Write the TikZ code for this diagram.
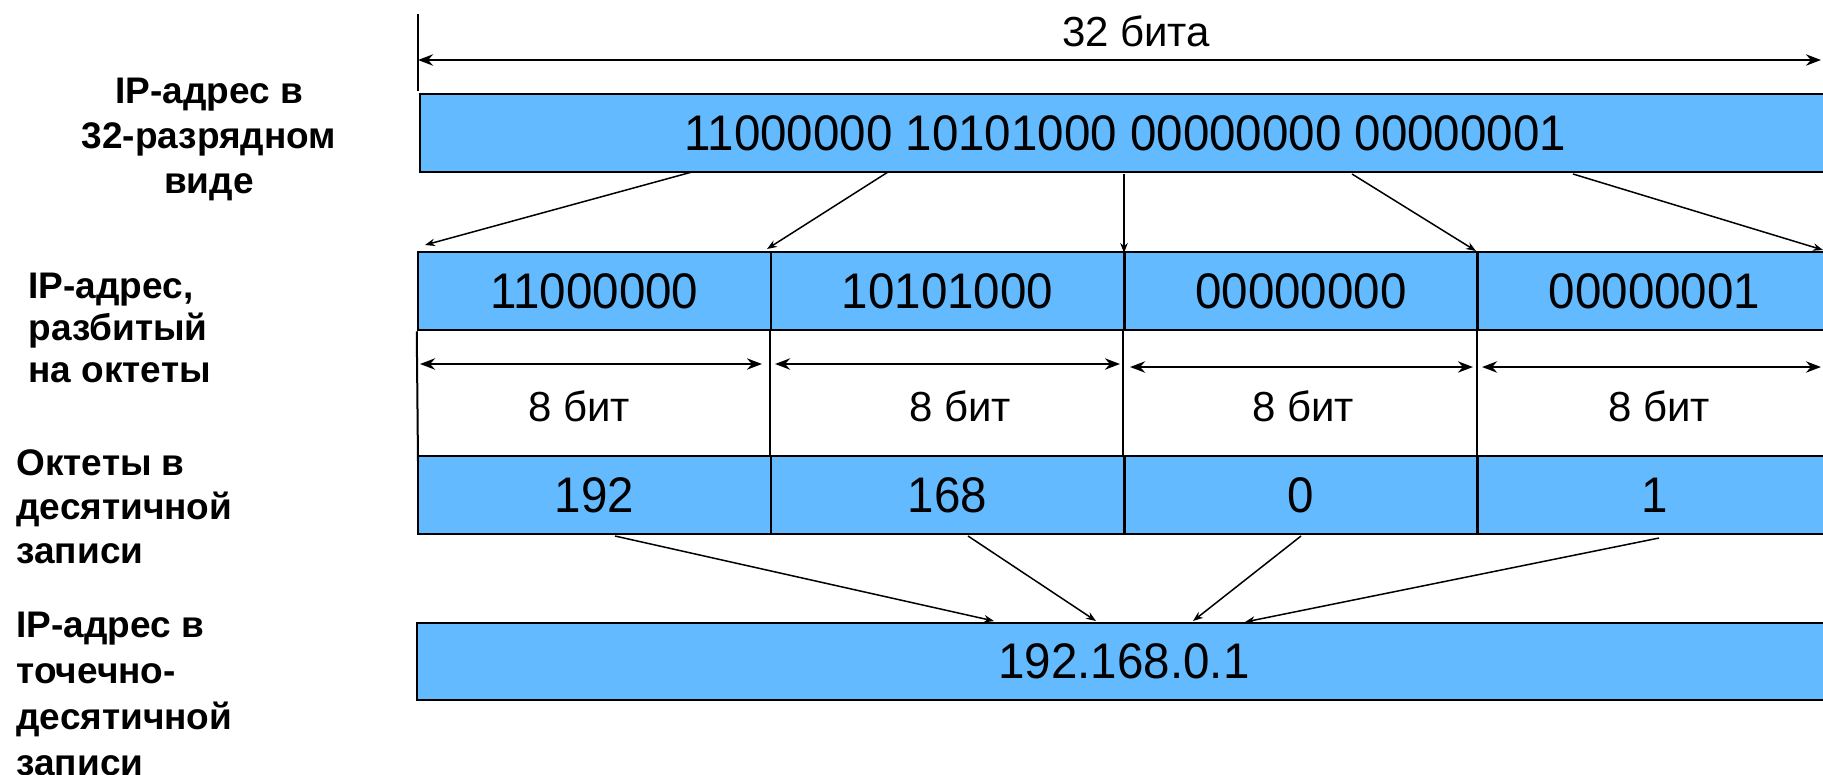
\documentclass[tikz,border=0pt]{standalone}
\usepackage{fontspec}
\setmainfont{Liberation Sans}
\newfontfamily\boxfont[FakeStretch=0.95]{Liberation Sans}
\usetikzlibrary{arrows.meta}
\definecolor{boxblue}{RGB}{99,186,255}
\begin{document}
\begin{tikzpicture}[x=0.4pt,y=-0.4pt,
  cell/.style={draw=black, fill=boxblue, line width=1pt, inner sep=0pt,
    minimum height=31.2pt, font=\boxfont\fontsize{20}{24}\selectfont},
  dimtext/.style={font=\fontsize{16.8}{20}\selectfont, inner sep=0pt},
  lab/.style={font=\bfseries\fontsize{14.8}{18}\selectfont, inner sep=0pt},
  dimline/.style={line width=1pt, {Stealth[length=6pt,width=4.5pt]}-{Stealth[length=6pt,width=4.5pt]}},
  conn/.style={line width=0.6pt, -{Stealth[length=4pt,width=3pt]}},
  tickline/.style={line width=0.8pt}]
\useasboundingbox (0,0) rectangle (1823,774);
\clip (0,0) rectangle (1823,774);

% labels
\node[lab, anchor=north, align=center] (l1) at (209,78) {IP-адрес в\\32-разрядном\\виде};
\node[lab, anchor=north west, align=left, font=\bfseries\fontsize{14.8}{16.8}\selectfont] (l2) at (28,273) {IP-адрес,\\разбитый\\на октеты};
\node[lab, anchor=north west, align=left, font=\bfseries\fontsize{14.8}{17.6}\selectfont] (l3) at (16,449) {Октеты в\\десятичной\\записи};
\node[lab, anchor=north west, align=left, font=\bfseries\fontsize{14.8}{18.4}\selectfont] (l4) at (16,612) {IP-адрес в\\точечно-\\десятичной\\записи};

% boxes
\node[cell, minimum width=564.4pt] (bin) at (1125.5,133) {11000000 10101000 00000000 00000001};
\node[cell, minimum width=141.2pt] (o1) at (594.5,291) {11000000};
\node[cell, minimum width=141.2pt] (o2) at (947.5,291) {10101000};
\node[cell, minimum width=141.2pt] (o3) at (1301,291) {00000000};
\node[cell, minimum width=141.2pt] (o4) at (1654.5,291) {00000001};
\node[cell, minimum width=141.2pt] (d1) at (594.5,495) {192};
\node[cell, minimum width=141.2pt] (d2) at (947.5,495) {168};
\node[cell, minimum width=141.2pt] (d3) at (1301,495) {0};
\node[cell, minimum width=141.2pt] (d4) at (1654.5,495) {1};
\node[cell, minimum width=565.6pt, minimum height=30.8pt] (dot) at (1124,661.5) {192.168.0.1};

% 32-bit dimension
\coordinate (v0a) at (418,14);
\coordinate (v0b) at (418,91);
\draw[tickline] (v0a) -- (v0b);
\coordinate (a0l) at (418,60);
\coordinate (a0r) at (1821,60);
\draw[dimline] (a0l) -- (a0r);
\node[dimtext] (b32) at (1136,31) {32 бита};

% dividers between octet row and decimal row
\coordinate (dl) at (418,462);
\draw[tickline] (o1.south west) -- (dl);
\draw[tickline] (o2.south west) -- (d2.north west);
\draw[tickline] (o3.south west) -- (d3.north west);
\draw[tickline] (o4.south west) -- (d4.north west);

% 8-bit dimensions
\coordinate (a1l) at (420,364);  \coordinate (a1r) at (762,364);
\coordinate (a2l) at (775,364);  \coordinate (a2r) at (1120,364);
\coordinate (a3l) at (1130,367); \coordinate (a3r) at (1473,367);
\coordinate (a4l) at (1482,367); \coordinate (a4r) at (1821,367);
\draw[dimline] (a1l) -- (a1r);
\draw[dimline] (a2l) -- (a2r);
\draw[dimline] (a3l) -- (a3r);
\draw[dimline] (a4l) -- (a4r);
\node[dimtext] (t1) at (579,406) {8 бит};
\node[dimtext] (t2) at (960,406) {8 бит};
\node[dimtext] (t3) at (1303,406) {8 бит};
\node[dimtext] (t4) at (1659,406) {8 бит};

% connectors from 32-bit bar to octets
\coordinate (s1) at (692,172);  \coordinate (e1) at (425,245);
\coordinate (s2) at (888,172);  \coordinate (e2) at (767,249);
\coordinate (s3) at (1124,174); \coordinate (e3) at (1124,253);
\coordinate (s4) at (1352,174); \coordinate (e4) at (1476,251);
\coordinate (s5) at (1573,174); \coordinate (e5) at (1823,250);
\draw[conn] (s1) -- (e1);
\draw[conn] (s2) -- (e2);
\draw[conn] (s3) -- (e3);
\draw[conn] (s4) -- (e4);
\draw[conn] (s5) -- (e5);

% connectors from decimal octets to dotted-decimal bar
\coordinate (f1) at (615,536);  \coordinate (g1) at (994,621);
\coordinate (f2) at (968,536);  \coordinate (g2) at (1096,621);
\coordinate (f3) at (1301,536); \coordinate (g3) at (1193,621);
\coordinate (f4) at (1659,538); \coordinate (g4) at (1245,622);
\draw[conn] (f1) -- (g1);
\draw[conn] (f2) -- (g2);
\draw[conn] (f3) -- (g3);
\draw[conn] (f4) -- (g4);
\end{tikzpicture}
\end{document}
